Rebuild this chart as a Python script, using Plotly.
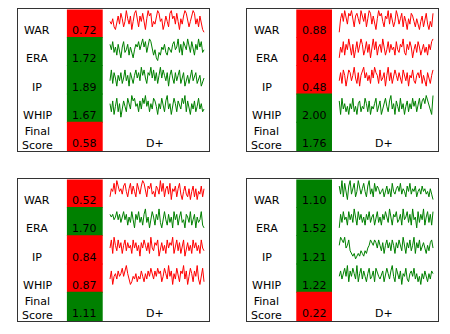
import plotly.graph_objects as go

metrics = ["WAR", "ERA", "IP", "WHIP", "Final<br>Score"]
grades = ["D+", "D+", "D+", "D+"]

scores_tl = [0.72, 1.72, 1.89, 1.67, 0.58]
scores_tr = [0.88, 0.44, 0.48, 2.00, 1.76]
scores_bl = [0.52, 1.70, 0.84, 0.87, 1.11]
scores_br = [1.10, 1.52, 1.21, 1.22, 0.22]

# sparkline levels (0..9) for WAR, ERA, IP, WHIP
spark_tl = [
    [5,4,6,3,2,5,7,4,8,6,3,5,9,6,4,7,2,5,8,9,6,3,7,5,8,4,2,6,9,7,8,3,5,4,7,9,8,5,6,2,4,7,5,3,8,9,6,7,4,8,5,2,6,4,7,9,8,6,3,5,7,9,8,4,6,3,7,4,2,1],
    [7,5,8,4,6,3,7,5,2,6,8,4,5,7,3,6,4,2,5,7,6,8,5,7,9,6,8,4,7,9,8,6,3,5,2,1,4,3,6,5,7,4,3,6,5,4,7,8,5,6,9,4,7,3,8,6,5,9,7,4,8,6,3,7,5,9,6,8,4,5],
    [4,8,3,7,5,2,6,4,7,3,5,8,4,6,2,7,5,3,6,8,5,7,4,9,6,8,5,3,7,6,9,5,8,4,7,3,6,9,5,8,6,4,7,2,6,8,5,3,7,4,6,8,3,5,7,2,4,6,3,5,8,4,6,7,3,5,6,2,4,5],
    [6,3,7,2,5,8,3,6,1,4,7,5,3,8,6,4,9,7,8,5,6,3,7,4,8,6,9,5,7,3,6,4,8,7,5,2,6,4,8,5,3,7,9,4,6,2,5,8,6,3,7,5,4,8,6,9,3,7,5,2,6,4,7,3,5,8,4,6,3,4],
]
spark_tr = [
    [1,6,8,5,9,6,4,8,7,9,5,3,7,8,6,4,9,7,5,8,3,6,9,8,4,7,5,2,6,9,7,8,5,3,7,6,9,4,8,6,3,5,9,7,4,6,8,3,7,5,2,6,4,8,7,5,3,6,4,2,5,7,3,6,8,4,2,5,3,8],
    [2,6,4,8,3,7,5,9,6,3,7,2,5,8,4,6,9,7,3,5,8,4,7,2,6,9,5,8,3,6,7,4,9,6,3,5,8,4,7,5,6,3,8,5,4,7,6,9,4,3,7,5,8,6,2,5,7,4,8,6,3,5,7,4,6,3,7,5,8,9],
    [4,7,3,8,6,2,5,8,7,4,6,9,5,3,7,2,6,8,9,5,7,4,6,3,8,5,9,7,6,3,8,4,5,7,2,6,9,4,7,3,5,8,6,4,7,5,3,8,6,4,7,2,6,5,8,4,3,6,7,5,8,3,6,4,2,7,5,3,6,8],
    [7,2,8,4,6,3,5,2,6,4,8,3,5,2,6,7,3,5,4,8,6,3,7,2,5,4,6,8,3,5,7,2,4,6,8,5,3,7,9,4,6,2,7,5,3,8,4,6,2,5,7,3,6,4,8,5,7,3,6,8,4,7,8,6,9,7,5,3,2,9],
]
spark_bl = [
    [3,6,5,8,4,9,7,5,6,4,7,8,5,3,6,8,4,7,5,3,8,6,4,7,9,8,5,3,7,6,8,4,5,3,7,6,4,9,5,8,3,6,7,4,8,2,6,5,7,3,6,8,4,2,5,7,4,3,6,2,5,7,3,6,2,5,4,7,3,6],
    [7,6,7,5,6,8,5,7,4,6,8,5,7,3,6,4,8,5,2,7,5,8,4,6,3,7,9,4,6,2,5,8,6,3,7,5,9,4,2,6,8,5,3,7,4,6,2,8,5,7,3,6,8,4,5,2,7,6,4,8,3,5,7,2,6,4,5,8,3,2],
    [5,8,3,9,6,4,8,5,7,3,6,8,4,7,5,6,3,8,5,7,4,6,2,7,5,8,6,4,7,3,9,5,4,7,6,8,2,5,7,4,6,3,8,5,7,6,9,3,5,8,4,7,3,6,8,2,5,7,4,6,3,8,5,7,4,6,3,8,5,4],
    [4,7,2,5,6,4,7,5,6,8,5,7,9,6,4,2,3,5,4,6,3,5,4,7,5,3,6,4,7,5,8,6,4,7,5,8,6,7,3,5,8,6,4,9,5,7,2,6,4,8,5,3,7,6,9,4,7,2,5,8,6,3,7,5,9,4,2,6,8,3],
]
spark_br = [
    [7,4,9,3,8,5,2,7,9,4,6,8,3,5,9,7,4,6,8,5,3,7,9,4,6,3,8,5,7,6,4,5,6,3,5,7,4,6,3,8,5,4,6,7,5,8,4,6,5,3,7,5,8,4,6,5,7,3,5,6,4,7,5,6,4,5,3,6,4,2],
    [2,7,4,8,5,6,3,8,5,7,4,9,6,3,8,5,7,4,6,3,7,5,8,4,6,7,3,5,8,4,6,3,7,5,8,6,4,9,5,3,7,6,8,4,5,7,3,9,5,6,8,4,7,3,9,5,6,2,8,4,7,5,9,3,6,8,4,7,3,8],
    [6,9,8,7,9,5,6,8,4,3,2,3,1,2,3,2,4,3,2,4,3,5,6,8,7,6,8,7,5,8,6,4,7,3,6,8,5,7,4,8,6,3,7,5,8,6,4,9,5,3,7,5,8,4,6,9,3,7,5,8,4,6,7,5,3,6,4,7,8,5],
    [5,7,4,6,8,5,9,3,7,5,8,6,4,9,3,6,8,4,7,5,3,6,8,4,5,7,3,8,6,5,4,6,7,3,5,8,6,4,7,9,5,3,8,6,4,7,2,6,5,8,4,3,6,7,5,8,4,6,3,5,2,6,4,7,5,3,6,4,7,6],
]

RED = "#ff0000"
GREEN = "#008000"
FONT = "DejaVu Sans"
FS = 11

panels = [
    (scores_tl, spark_tl, grades[0], [0.0389, 0.4644], [0.5479, 0.9716]),
    (scores_tr, spark_tr, grades[1], [0.5489, 0.9733], [0.5479, 0.9716]),
    (scores_bl, spark_bl, grades[2], [0.0389, 0.4644], [0.0389, 0.4626]),
    (scores_br, spark_br, grades[3], [0.5489, 0.9733], [0.0389, 0.4626]),
]

COL_L, COL_R = 0.258, 0.445
SP_L, SP_R = 0.483, 0.974
LABEL_X = 0.104
GRADE_X = 0.718

fig = go.Figure()
annotations = []
layout_axes = {}

for p, (scores, sparks, grade, xd, yd) in enumerate(panels):
    sfx = "" if p == 0 else str(p + 1)
    xref, yref = "x" + sfx, "y" + sfx
    n = len(metrics)
    bases = [n - 1 - k for k in range(n)]
    colors = [GREEN if s >= 1 else RED for s in scores]
    fig.add_trace(go.Bar(
        x=[(COL_L + COL_R) / 2] * n, y=[1.03] * n, base=bases, width=COL_R - COL_L,
        marker=dict(color=colors, line=dict(width=0)),
        xaxis=xref, yaxis=yref, showlegend=False, hoverinfo="skip"))
    for k, series in enumerate(sparks):
        m = len(series)
        xs = [SP_L + (SP_R - SP_L) * i / (m - 1) for i in range(m)]
        ys = [bases[k] + 0.1 + 0.86 * v / 9 for v in series]
        fig.add_trace(go.Scatter(
            x=xs, y=ys, mode="lines", line=dict(color=colors[k], width=1),
            xaxis=xref, yaxis=yref, showlegend=False, hoverinfo="skip"))
    for k in range(n):
        ly = bases[k] + (0.45 if k == n - 1 else 0.26)
        annotations.append(dict(x=LABEL_X, y=ly, xref=xref, yref=yref, text=metrics[k],
                                showarrow=False, font=dict(family=FONT, size=FS, color="black"),
                                xanchor="center", yanchor="middle"))
        annotations.append(dict(x=(COL_L + COL_R) / 2, y=bases[k] + 0.26, xref=xref, yref=yref,
                                text=f"{scores[k]:.2f}", showarrow=False,
                                font=dict(family=FONT, size=FS, color="black"),
                                xanchor="center", yanchor="middle"))
    annotations.append(dict(x=GRADE_X, y=0.26, xref=xref, yref=yref, text=grade,
                            showarrow=False, font=dict(family=FONT, size=FS, color="black"),
                            xanchor="center", yanchor="middle"))
    ax = dict(showgrid=False, zeroline=False, showticklabels=False, ticks="",
              showline=True, mirror=True, linecolor="#333", linewidth=1, fixedrange=True)
    layout_axes["xaxis" + sfx] = dict(ax, domain=xd, range=[0, 1], anchor=yref)
    layout_axes["yaxis" + sfx] = dict(ax, domain=yd, range=[0, n], anchor=xref)

fig.update_layout(
    width=450, height=334, margin=dict(l=0, r=0, t=0, b=0),
    paper_bgcolor="white", plot_bgcolor="white", barmode="overlay",
    annotations=annotations, showlegend=False, **layout_axes)

fig.write_html("out.html")
